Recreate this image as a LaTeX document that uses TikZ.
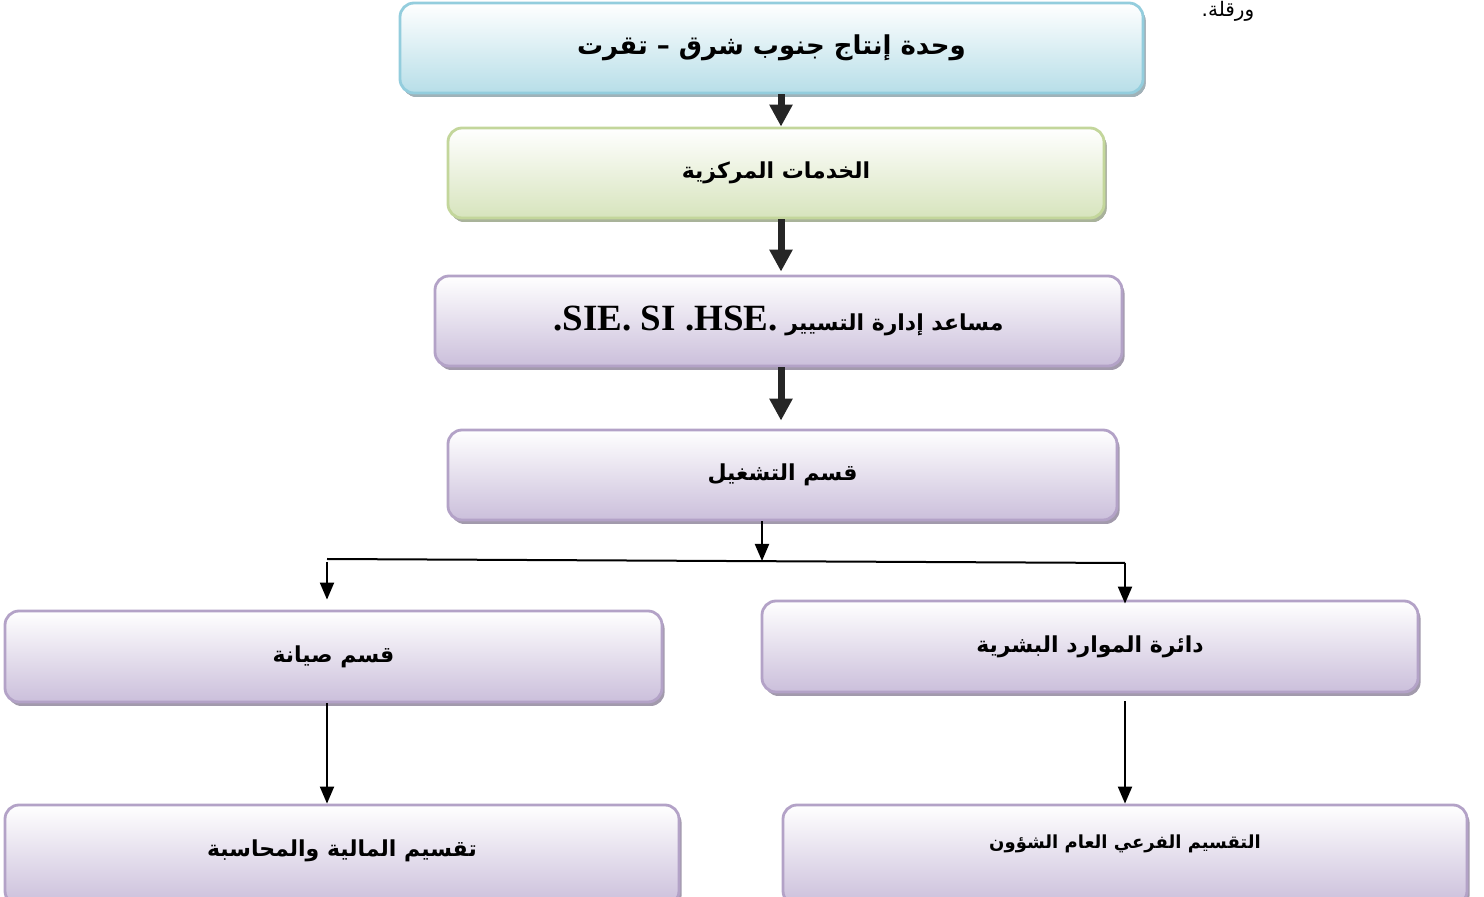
\documentclass[tikz,border=0pt]{standalone}
\usepackage{fontspec}
\usetikzlibrary{arrows.meta,shadows}
\TeXXeTstate=1
\newfontfamily\arabicfont[Script=Arabic]{DejaVu Sans}
\newfontfamily\latinserif{Liberation Serif}

\definecolor{lilacedge}{HTML}{B3A2C7}
\definecolor{lilacfill}{HTML}{CBBFDB}
\definecolor{lilacshadow}{HTML}{A29AAC}
\definecolor{skyedge}{HTML}{93CDDD}
\definecolor{skyfill}{HTML}{B7DEE8}
\definecolor{skyshadow}{HTML}{9FB2B8}
\definecolor{leafedge}{HTML}{C3D69B}
\definecolor{leaffill}{HTML}{D7E4BD}
\definecolor{leafshadow}{HTML}{A9B39A}
\definecolor{arrowink}{HTML}{262626}

\tikzset{
  unitbox/.style={rectangle, rounded corners=7pt, line width=1.4pt,
    draw=lilacedge, top color=white, bottom color=lilacfill,
    general shadow={shadow xshift=1.3pt, shadow yshift=-2pt, fill=lilacshadow},
    font=\arabicfont\bfseries\fontsize{11}{14}\selectfont, align=center},
  skybox/.style={unitbox, draw=skyedge, top color=white, bottom color=skyfill,
    general shadow={shadow xshift=1.3pt, shadow yshift=-2pt, fill=skyshadow}},
  leafbox/.style={unitbox, draw=leafedge, top color=white, bottom color=leaffill,
    general shadow={shadow xshift=1.3pt, shadow yshift=-2pt, fill=leafshadow}},
  heavyarrow/.style={draw=arrowink, line width=3.5pt,
    -{Triangle[width=11pt,length=11pt]}},
  lightarrow/.style={draw=black, line width=1pt,
    -{Triangle[width=7pt,length=8.5pt]}},
  busline/.style={draw=black, line width=1pt},
}

\begin{document}
\begin{tikzpicture}[x=0.5pt, y=-0.5pt]
\clip (0,0) rectangle (1484,897);

% place name in the running header
\node[font=\arabicfont\fontsize{10}{12}\selectfont, anchor=base] (town) at (1228,17) {\beginR ورقلة.\endR};

% boxes of the chart
\node[skybox, minimum width=371.5pt, minimum height=45pt,
  font=\arabicfont\bfseries\fontsize{13}{16}\selectfont] (b1) at (771.5,48)
  {\beginR وحدة إنتاج جنوب شرق – تقرت\endR};
\node[leafbox, minimum width=328pt, minimum height=45pt] (b2) at (776,173)
  {\beginR الخدمات المركزية\endR};
\node[unitbox, minimum width=343.5pt, minimum height=45pt] (b3) at (778.5,321)
  {\beginR مساعد إدارة التسيير \beginL{\latinserif\bfseries\fontsize{18.5}{20}\selectfont .SIE. SI .HSE.}\endL\endR};
\node[unitbox, minimum width=334.5pt, minimum height=45pt] (b4) at (782.5,475)
  {\beginR قسم التشغيل\endR};
\node[unitbox, minimum width=328.5pt, minimum height=45.5pt] (b5) at (333.5,656.5)
  {\beginR قسم صيانة\endR};
\node[unitbox, minimum width=328pt, minimum height=45.5pt] (b6) at (1090,646.5)
  {\beginR دائرة الموارد البشرية\endR};
\node[unitbox, minimum width=337pt, minimum height=50pt, text depth=7pt] (b7) at (342,855)
  {\beginR تقسيم المالية والمحاسبة\endR};
\node[unitbox, minimum width=342pt, minimum height=50pt, text depth=13pt,
  font=\arabicfont\bfseries\fontsize{9}{11}\selectfont] (b8) at (1125,855)
  {\beginR التقسيم الفرعي العام الشؤون\endR};

% reference points for the connectors
\coordinate (axis) at (781,0);
\coordinate (drop) at (762,561);
\coordinate (busL) at (327,559);
\coordinate (busR) at (1125,563);

% heavy arrows down the main column
\draw[heavyarrow] (b1.south -| axis) -- (b2.north -| axis);
\draw[heavyarrow] (b2.south -| axis) -- ([yshift=1.5pt]b3.north -| axis);
\draw[heavyarrow] (b3.south -| axis) -- ([yshift=4pt]b4.north -| axis);

% distribution bus to the two branches
\draw[lightarrow] (b4.south -| drop) -- (drop);
\draw[busline] (busL) -- (busR);
\draw[lightarrow] ([yshift=-1.5pt]busL) -- ([yshift=5pt]b5.north -| busL);
\draw[lightarrow] (busR) -- ([yshift=-2pt]b6.north -| busR);

% lower level
\draw[lightarrow] (b5.south -| busL) -- (b7.north -| busL);
\draw[lightarrow] ([yshift=-4pt]b6.south -| busR) -- (b8.north -| busR);
\end{tikzpicture}
\end{document}
